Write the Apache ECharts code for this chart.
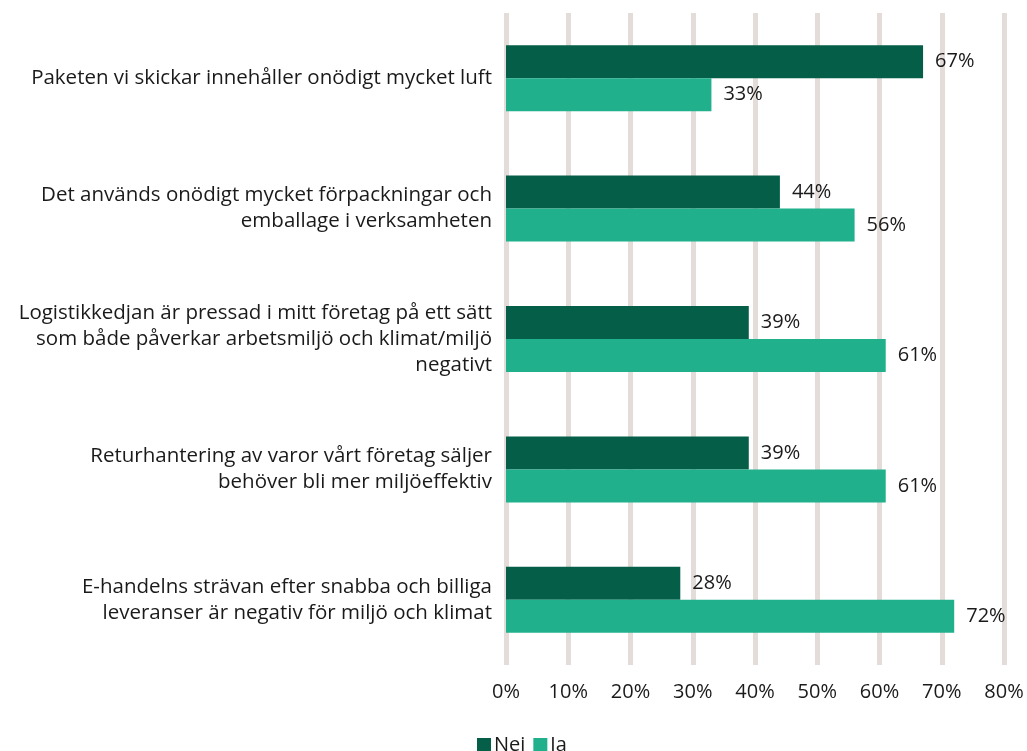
<!DOCTYPE html>
<html>
<head>
<meta charset="utf-8">
<script src="https://cdn.jsdelivr.net/npm/echarts@6/dist/echarts.min.js"></script>
<style>
  html, body { margin: 0; padding: 0; background: #fff; }
  #main { width: 1027px; height: 751px; }
</style>
</head>
<body>
<div id="main"></div>
<script>
// frågor (kategorier)
var categories = [
    'Paketen vi skickar innehåller onödigt mycket luft',
    'Det används onödigt mycket förpackningar och\nemballage i verksamheten',
    'Logistikkedjan är pressad i mitt företag på ett sätt\nsom både påverkar arbetsmiljö och klimat/miljö\nnegativt',
    'Returhantering av varor vårt företag säljer\nbehöver bli mer miljöeffektiv',
    'E-handelns strävan efter snabba och billiga\nleveranser är negativ för miljö och klimat'
];
var nejValues = [67, 44, 39, 39, 28];
var jaValues = [33, 56, 61, 61, 72];

var chart = echarts.init(document.getElementById('main'));

var fontName = 'Open Sans';

var labelStyle = {
    show: true,
    position: 'right',
    distance: 12,
    formatter: '{c}%',
    fontFamily: fontName,
    fontSize: 20,
    color: '#1a1a1a'
};

var option = {
    animation: false,
    textStyle: { fontFamily: fontName },
    color: ['#045e48', '#20b08c'],
    legend: {
        data: ['Nej', 'Ja'],
        left: 472,
        top: 730,
        icon: 'rect',
        itemWidth: 14,
        itemHeight: 14,
        itemGap: 8,
        textStyle: { fontFamily: fontName, fontSize: 20, color: '#1a1a1a', padding: [0, 0, 0, -2] }
    },
    grid: {
        left: 506,
        right: 23,
        top: 13,
        bottom: 86,
        containLabel: false
    },
    xAxis: {
        type: 'value',
        min: 0,
        max: 80,
        interval: 10,
        axisLine: { show: false },
        axisTick: { show: false },
        axisLabel: {
            formatter: '{value}%',
            fontFamily: fontName,
            fontSize: 20,
            color: '#1a1a1a',
            margin: 17
        },
        splitLine: {
            show: true,
            lineStyle: { color: '#e3dcd9', width: 5 }
        }
    },
    yAxis: {
        type: 'category',
        inverse: true,
        data: categories,
        axisLine: { show: false },
        axisTick: { show: false },
        axisLabel: {
            fontFamily: fontName,
            fontSize: 20.5,
            color: '#1a1a1a',
            margin: 14,
            align: 'right',
            lineHeight: 26
        }
    },
    series: [
        {
            name: 'Nej',
            type: 'bar',
            data: nejValues,
            barWidth: 33,
            barGap: '0%',
            label: labelStyle
        },
        {
            name: 'Ja',
            type: 'bar',
            data: jaValues,
            barWidth: 33,
            barGap: '0%',
            label: labelStyle
        }
    ]
};

chart.setOption(option);
</script>
</body>
</html>
